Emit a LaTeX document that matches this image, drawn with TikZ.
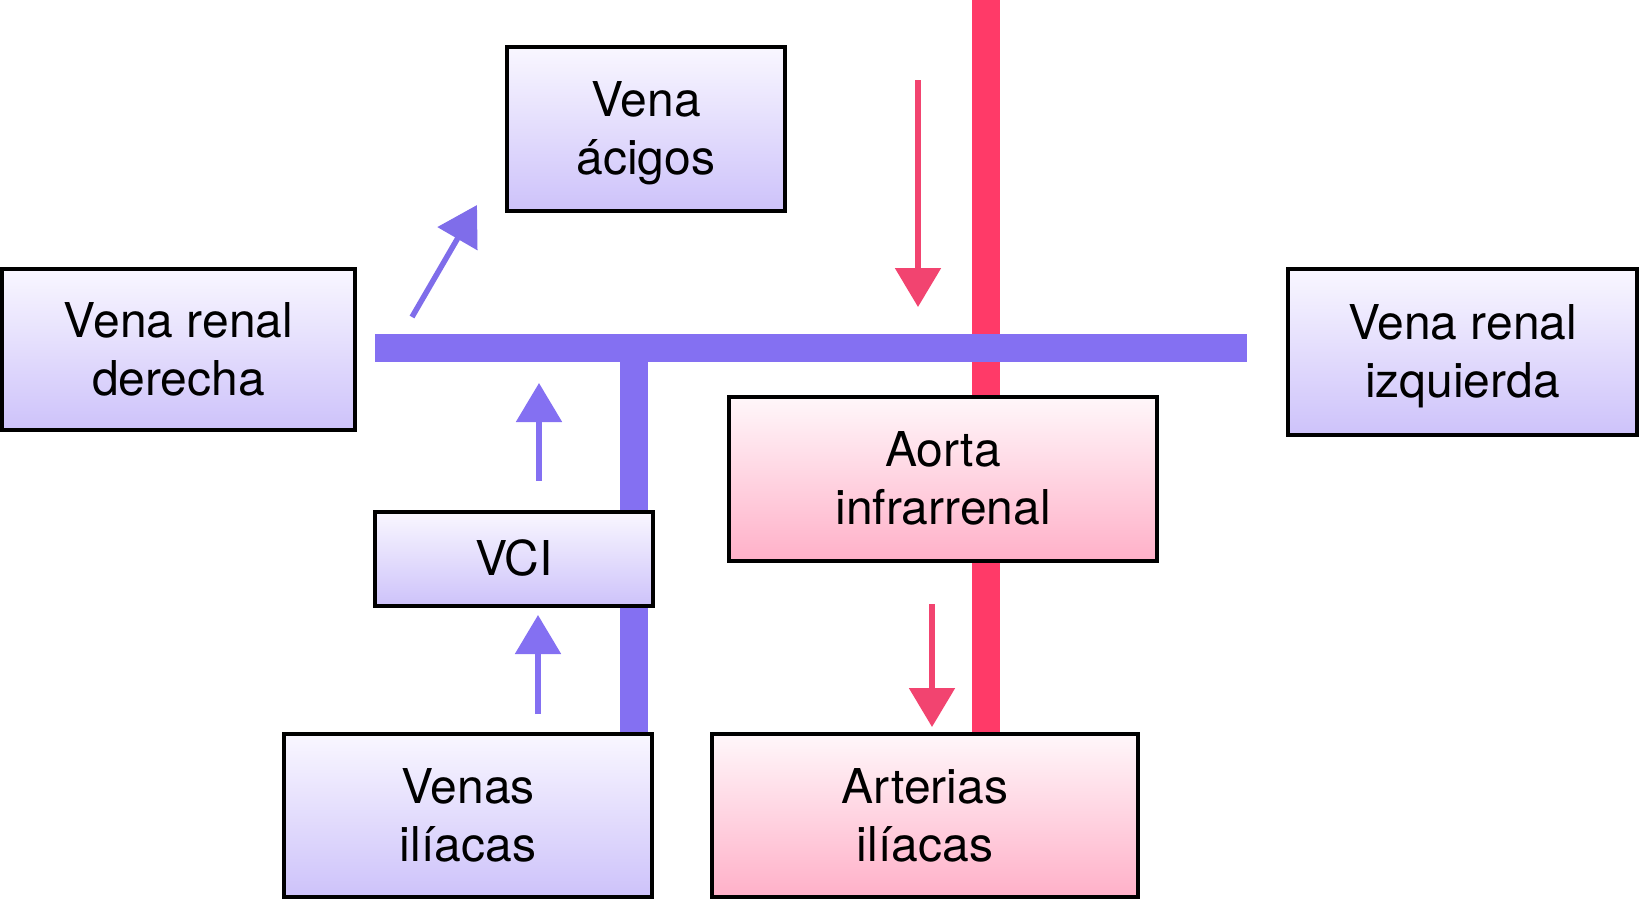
\documentclass[tikz,border=0pt]{standalone}
\usepackage{fontspec}
\setmainfont{TeX Gyre Heros}
\usetikzlibrary{arrows.meta,calc}
\pgfdeclarelayer{background}
\pgfsetlayers{background,main}
\definecolor{vbar}{HTML}{8470F2}
\definecolor{varr}{HTML}{7F6DEA}
\definecolor{rbar}{HTML}{FF3A68}
\definecolor{rarr}{HTML}{F24470}
\definecolor{vtop}{HTML}{F9F7FF}
\definecolor{vbot}{HTML}{CDC2FA}
\definecolor{ptop}{HTML}{FFF7FA}
\definecolor{pbot}{HTML}{FFB0C8}
\newcommand\twolines[3]{%
  \node[txt] (#1-a) at ($(#1.center)+(0,-12.5)$) {#2};
  \node[txt] (#1-b) at ($(#1.center)+(0,45.5)$) {#3};}
\begin{document}
\begin{tikzpicture}[x=1pt,y=-1pt,
  box/.style={draw=black,line width=3.8pt,inner sep=0pt},
  vbox/.style={box,top color=vtop,bottom color=vbot},
  pbox/.style={box,top color=ptop,bottom color=pbot},
  txt/.style={anchor=base,inner sep=0pt,font=\fontsize{48}{58}\selectfont},
  vessel/.style={line width=28pt},
  flow/.style={line width=5.5pt,-{Triangle[length=39pt,width=45pt]}}]
\useasboundingbox (0,0) rectangle (1641,902);

% boxes
\node[vbox,minimum width=278.5pt,minimum height=164.5pt] (acigos) at (646,129) {};
\node[vbox,minimum width=353.5pt,minimum height=161.5pt] (rd) at (178.5,349.5) {};
\node[vbox,minimum width=349.5pt,minimum height=166.5pt] (ri) at (1462.5,352) {};
\node[vbox,minimum width=278.5pt,minimum height=94.5pt] (vci) at (514,559) {};
\node[vbox,minimum width=368.5pt,minimum height=163.5pt] (venas) at (468,815.5) {};
\node[pbox,minimum width=428.5pt,minimum height=164.5pt] (aorta) at (943,479) {};
\node[pbox,minimum width=426.5pt,minimum height=163.5pt] (arterias) at (925,815.5) {};

% texts
\twolines{acigos}{Vena}{ácigos}
\twolines{rd}{Vena renal}{derecha}
\twolines{ri}{Vena renal}{izquierda}
\twolines{aorta}{Aorta}{infrarrenal}
\twolines{venas}{Venas}{ilíacas}
\twolines{arterias}{Arterias}{ilíacas}
\node[txt] (vci-a) at ($(vci.center)+(0,16)$) {VCI};

% vessels (behind boxes)
\coordinate (aoTop) at (986,0);
\coordinate (renL) at (375,348);
\coordinate (renR) at (1247,348);
\coordinate (cava) at (633.5,348);
\begin{pgfonlayer}{background}
  \draw[vessel,rbar] (aoTop) -- (aoTop |- arterias.north);
  \draw[vessel,vbar] (renL) -- (renR);
  \draw[vessel,vbar] (cava) -- (cava |- venas.north);
\end{pgfonlayer}

% flow arrows
\coordinate (f1s) at (412,317); \coordinate (f1e) at (477,205);
\coordinate (f2s) at (539,481); \coordinate (f2e) at (539,383);
\coordinate (f3s) at (538,714); \coordinate (f3e) at (538,615);
\coordinate (f4s) at (918,80);  \coordinate (f4e) at (918,307);
\coordinate (f5s) at (932,604); \coordinate (f5e) at (932,727);
\draw[flow,varr] (f1s) -- (f1e);
\draw[flow,vbar] (f2s) -- (f2e);
\draw[flow,vbar] (f3s) -- (f3e);
\draw[flow,rarr] (f4s) -- (f4e);
\draw[flow,rarr] (f5s) -- (f5e);
\end{tikzpicture}
\end{document}
